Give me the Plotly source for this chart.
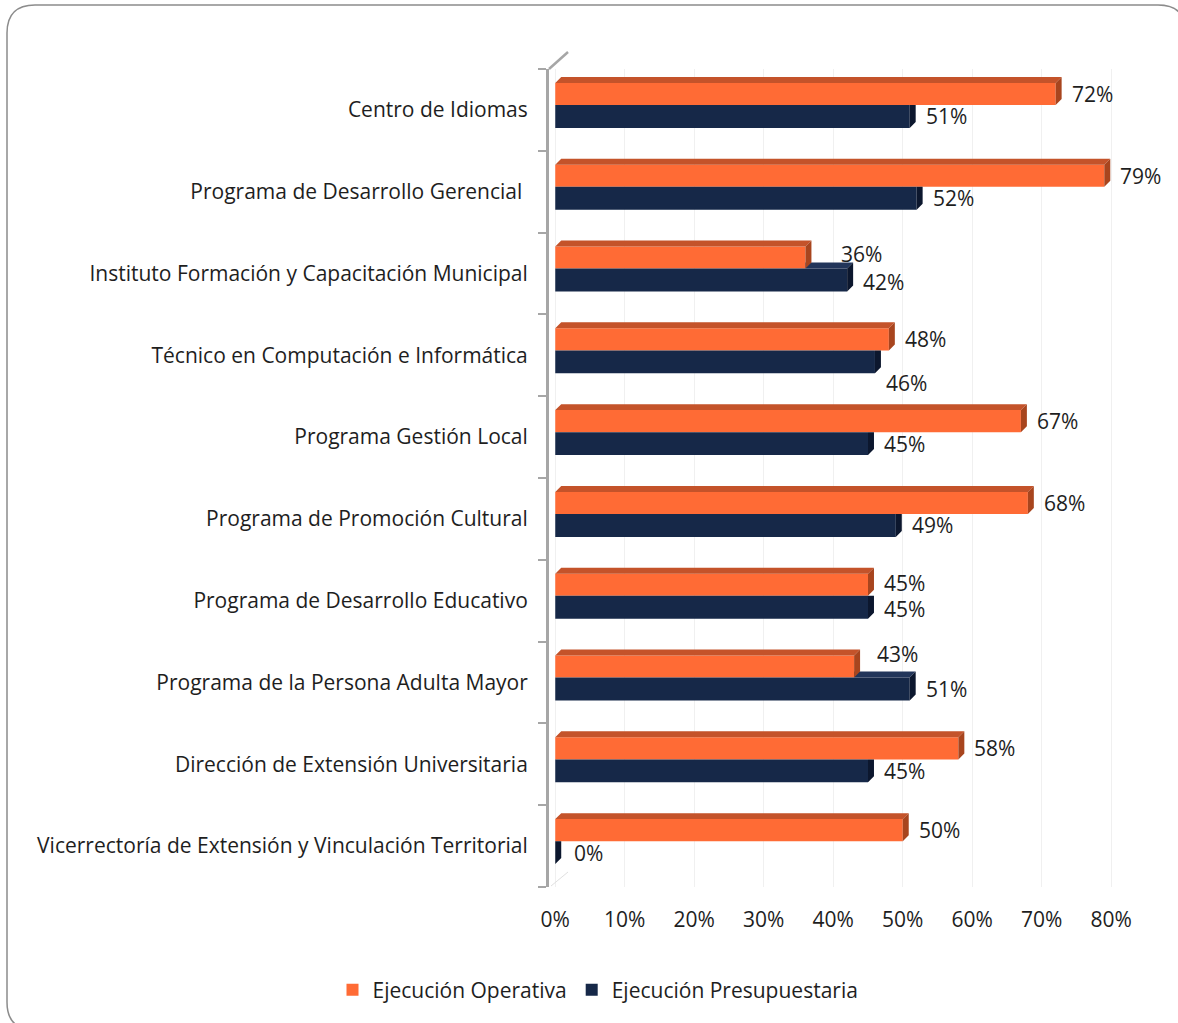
import plotly.graph_objects as go

categorias = [
    "Centro de Idiomas",
    "Programa de Desarrollo Gerencial\u00a0",
    "Instituto Formación y Capacitación Municipal",
    "Técnico en Computación e Informática",
    "Programa Gestión Local",
    "Programa de Promoción Cultural",
    "Programa de Desarrollo Educativo",
    "Programa de la Persona Adulta Mayor",
    "Dirección de Extensión Universitaria",
    "Vicerrectoría de Extensión y Vinculación Territorial",
]
operativa = [72, 79, 36, 48, 67, 68, 45, 43, 58, 50]
presupuestaria = [51, 52, 42, 46, 45, 49, 45, 51, 45, 0]
ticks_x = [0, 10, 20, 30, 40, 50, 60, 70, 80]

NARANJA = "#FF6B35"
NARANJA_TOP = "#C4532A"
NARANJA_LADO = "#A8451E"
AZUL = "#162848"
AZUL_TOP = "#22355A"
AZUL_LADO = "#0C172E"
FUENTE = "Open Sans"
TXT = "#1E1E1E"
TAM = 21

W, H = 1178, 1023
ML, MR, MT, MB = 549, 58, 69, 136
DX = 0.86      # profundidad 3D en unidades x (~6px)
DY = 0.073     # profundidad 3D en unidades y (~6px)
X0 = -0.9
X1 = (W - ML - MR) / 6.95 + X0

# offsets/anchos de cada serie dentro de la banda
OFF_O, ANCHO_O = -0.33, 0.27
OFF_P, ANCHO_P = -0.06, 0.28

pos = list(range(len(categorias)))


def px2paper(px, py):
    return (px - ML) / (W - ML - MR), (H - MB - py) / (H - MT - MB)


fig = go.Figure()

fig.add_trace(go.Bar(
    y=pos, x=operativa, orientation="h", name="Ejecución Operativa",
    marker=dict(color=NARANJA, line=dict(width=0)),
    offset=OFF_O, width=ANCHO_O, hoverinfo="skip"))
fig.add_trace(go.Bar(
    y=pos, x=presupuestaria, orientation="h", name="Ejecución Presupuestaria",
    marker=dict(color=AZUL, line=dict(width=0)),
    offset=OFF_P, width=ANCHO_P, hoverinfo="skip"))


# caras 3D
def poligonos(lista):
    xs, ys = [], []
    for pts in lista:
        for (a, b) in pts + [pts[0]]:
            xs.append(a)
            ys.append(b)
        xs.append(None)
        ys.append(None)
    return xs, ys


azul_top, azul_lado, nar_top, nar_lado = [], [], [], []
for i, (o, p) in enumerate(zip(operativa, presupuestaria)):
    yt = i + OFF_P
    yb = i + OFF_P + ANCHO_P
    if p > o:
        azul_top.append([(o, yt), (p, yt), (p + DX, yt - DY), (o, yt - DY)])
        azul_lado.append([(p, yt), (p + DX, yt - DY), (p + DX, yb - DY), (p, yb)])
    else:
        azul_lado.append([(p, yt), (p + DX, yt), (p + DX, yb - DY), (p, yb)])
    yt = i + OFF_O
    yb = i + OFF_O + ANCHO_O
    nar_top.append([(0, yt), (o, yt), (o + DX, yt - DY), (DX, yt - DY)])
    nar_lado.append([(o, yt), (o + DX, yt - DY), (o + DX, yb - DY), (o, yb)])

for lista, color in [(azul_top, AZUL_TOP), (azul_lado, AZUL_LADO),
                     (nar_top, NARANJA_TOP), (nar_lado, NARANJA_LADO)]:
    xs, ys = poligonos(lista)
    fig.add_trace(go.Scatter(
        x=xs, y=ys, mode="lines", fill="toself", fillcolor=color,
        line=dict(width=0, color=color), showlegend=False, hoverinfo="skip"))

# etiquetas de datos
ajustes = {("o", 2): (20, -4), ("p", 2): (0, 2), ("p", 3): (-5, 21),
           ("o", 6): (0, -2), ("p", 6): (0, 2),
           ("o", 7): (7, -13), ("p", 9): (3, 0)}
anots = []
for serie, vals, off, ancho in [("o", operativa, OFF_O, ANCHO_O),
                                ("p", presupuestaria, OFF_P, ANCHO_P)]:
    for i, v in enumerate(vals):
        ddx, ddy = ajustes.get((serie, i), (0, 0))
        anots.append(dict(
            x=v, y=i + off + ancho / 2, text=f"{v}%", showarrow=False,
            xanchor="left", yanchor="middle", xshift=14 + ddx, yshift=-ddy,
            font=dict(family=FUENTE, size=TAM, color=TXT)))

# marco redondeado
fx0, fy0 = px2paper(7, 5)
fx1, fy1 = px2paper(1186, 1030)
rx = 28 / (W - ML - MR)
ry = 28 / (H - MT - MB)
marco = (f"M {fx0 + rx},{fy0} L {fx1 - rx},{fy0} Q {fx1},{fy0} {fx1},{fy0 - ry} "
         f"L {fx1},{fy1 + ry} Q {fx1},{fy1} {fx1 - rx},{fy1} "
         f"L {fx0 + rx},{fy1} Q {fx0},{fy1} {fx0},{fy1 + ry} "
         f"L {fx0},{fy0 - ry} Q {fx0},{fy0} {fx0 + rx},{fy0} Z")
dx0, dy0 = px2paper(549, 69)
dx1, dy1 = px2paper(568, 52)
ex0, ey0 = px2paper(551, 886)
ex1, ey1 = px2paper(568, 872)
shapes = [
    dict(type="path", xref="paper", yref="paper", path=marco,
         line=dict(color="#8C8C8C", width=1.5), layer="below"),
    dict(type="line", xref="paper", yref="paper", x0=dx0, y0=dy0, x1=dx1, y1=dy1,
         line=dict(color="#A6A6A6", width=2.5)),
    dict(type="line", xref="paper", yref="paper", x0=ex0, y0=ey0, x1=ex1, y1=ey1,
         line=dict(color="#E0E0E0", width=1)),
]

lx, ly = px2paper(598, 990)
fig.update_layout(
    width=W, height=H,
    margin=dict(l=ML, r=MR, t=MT, b=MB, pad=0),
    barmode="overlay",
    plot_bgcolor="white", paper_bgcolor="white",
    font=dict(family=FUENTE, size=TAM, color=TXT),
    showlegend=True,
    legend=dict(orientation="h", x=lx, y=ly, xanchor="center", yanchor="middle",
                font=dict(family=FUENTE, size=TAM, color=TXT), itemwidth=30,
                traceorder="normal"),
    annotations=anots,
    shapes=shapes,
)
fig.update_xaxes(
    range=[X0, X1], tickvals=ticks_x, ticktext=[f"{t}%" for t in ticks_x],
    showgrid=True, gridcolor="#F0F0F0", gridwidth=1, zeroline=False,
    showline=False, ticks="", ticklabelstandoff=18,
    tickfont=dict(family=FUENTE, size=TAM, color=TXT))
fig.update_yaxes(
    range=[len(categorias) - 0.5, -0.5], tickvals=pos, ticktext=categorias,
    showgrid=False, zeroline=False, showline=True, linecolor="#A6A6A6", linewidth=3,
    ticks="", ticklabelstandoff=14,
    minor=dict(tickmode="array", tickvals=[k - 0.5 for k in range(len(categorias) + 1)],
               ticks="outside", ticklen=8, tickwidth=2, tickcolor="#A6A6A6", showgrid=False),
    tickfont=dict(family=FUENTE, size=TAM, color=TXT))

fig.write_html("out.html", config={"displayModeBar": False},
               post_script="document.body.style.margin='0';")
